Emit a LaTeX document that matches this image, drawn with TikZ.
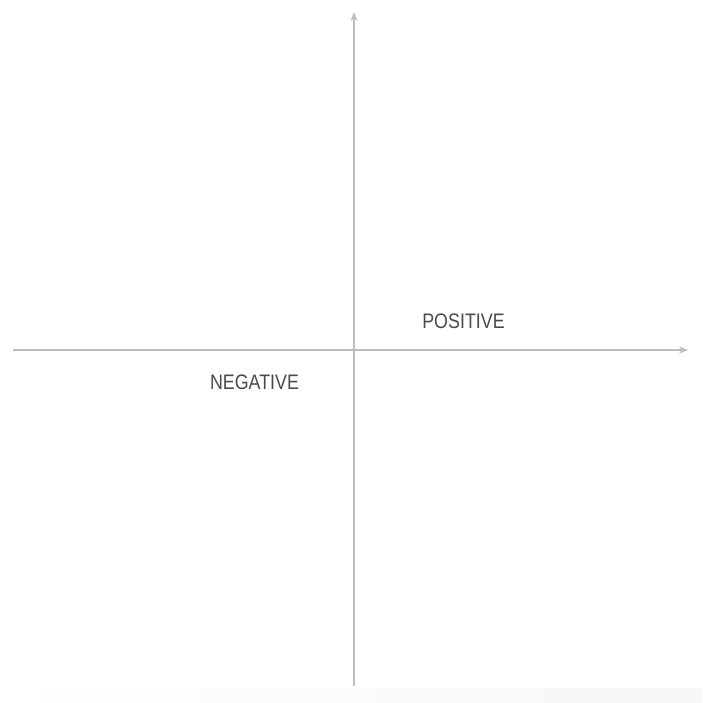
\documentclass[tikz,border=0pt]{standalone}
\usepackage{fontspec}
\setmainfont{Liberation Sans}
\usetikzlibrary{arrows.meta,fadings}
\newfontfamily\lightfont[FakeStretch=0.85]{Liberation Sans}
\definecolor{axisgray}{HTML}{BDBDBD}
\definecolor{labelgray}{HTML}{4A4A4A}
\tikzset{
  axisline/.style={draw=axisgray, line width=1.3pt, -{Stealth[length=9pt,width=7pt]}},
  quadlabel/.style={inner sep=0pt, text=labelgray, font=\lightfont\fontsize{21}{21}\selectfont},
}
\begin{document}
\begin{tikzpicture}[x=1pt,y=-1pt]
\useasboundingbox (0,0) rectangle (703,703);
\fill[white] (0,0) rectangle (703,703);
\fill[black!3, path fading=west] (40,688) rectangle (703,703);
\coordinate (xl) at (13,350);
\coordinate (xr) at (688,350);
\coordinate (yb) at (354,686);
\coordinate (yt) at (354,12);
\draw[axisline] (xl) -- (xr);
\draw[axisline] (yb) -- (yt);
\node[quadlabel] (pos) at (463.5,321.5) {POSITIVE};
\node[quadlabel] (neg) at (254.5,382) {NEGATIVE};
\end{tikzpicture}
\end{document}
